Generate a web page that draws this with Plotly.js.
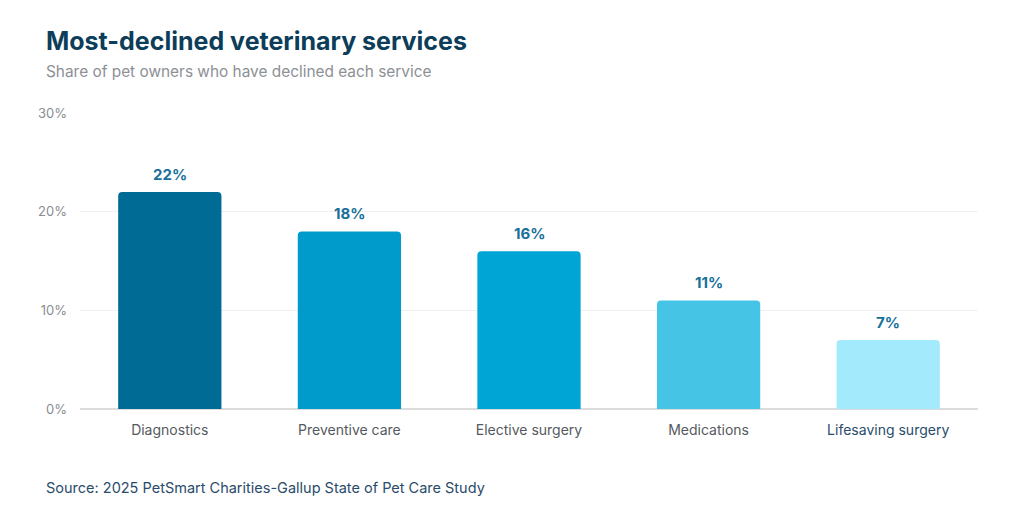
<!DOCTYPE html>
<html>
<head>
<meta charset="utf-8">
<script src="https://cdn.plot.ly/plotly-3.0.1.min.js"></script>
<style>
  html, body { margin: 0; padding: 0; background: #ffffff; }
  #chart { width: 1024px; height: 524px; }
</style>
</head>
<body>
<div id="chart"></div>
<script>
// Share of pet owners declining each veterinary service (%)
const services = ["Diagnostics", "Preventive care", "Elective surgery", "Medications", "Lifesaving surgery"];
const declinedPct = [22, 18, 16, 11, 7];
const barColors = ["#006b94", "#009bcb", "#00a5d5", "#45c4e6", "#a3ebfc"];
const yTicks = [0, 10, 20, 30];
const yTickLabels = ["0%", "10%", "20%", "30%"];

const FONT = "Inter, 'Open Sans', sans-serif";

// Plot area spans x 80..978 px, y 113..409 px
const L = 80, R = 46, T = 113, B = 115, H = 524 - T - B, W = 1024 - L - R;
const px = x => (x - L) / W;
const py = y => (524 - B - y) / H;

const trace = {
  type: "bar",
  x: services,
  y: declinedPct,
  width: 0.575,
  marker: { color: barColors, cornerradius: 4, line: { width: 0 } },
  hoverinfo: "x+y"
};

const valueLabels = services.map((s, i) => ({
  x: s, y: declinedPct[i], xref: "x", yref: "y",
  text: "<b>" + declinedPct[i] + "%</b>",
  showarrow: false, yanchor: "bottom", yshift: 6,
  font: { family: FONT, size: 15, color: "#17709a" }
}));

const layout = {
  width: 1024, height: 524,
  margin: { l: L, r: R, t: T, b: B, pad: 0 },
  paper_bgcolor: "#ffffff",
  plot_bgcolor: "#ffffff",
  showlegend: false,
  bargap: 0.425,
  font: { family: FONT },
  xaxis: {
    type: "category",
    tickvals: services,
    ticktext: services.map((s, i) => i === 4 ? '<span style="color:#2a4c6a">' + s + '</span>' : s),
    tickfont: { family: FONT, size: 14, color: "#555a60" },
    ticks: "", showgrid: false, showline: false, zeroline: false,
    ticklabelstandoff: 11,
    fixedrange: true
  },
  yaxis: {
    range: [0, 30],
    tickvals: yTicks,
    ticktext: yTickLabels,
    tickfont: { family: FONT, size: 13, color: "#8a8d91" },
    ticks: "", ticklabelstandoff: 12,
    showgrid: true, gridcolor: "#f4eef0", gridwidth: 1,
    zeroline: true, zerolinecolor: "#dcdcdc", zerolinewidth: 2,
    showline: false, fixedrange: true
  },
  annotations: [
    {
      text: "<b>Most-declined veterinary services</b>",
      xref: "paper", yref: "paper", x: px(44), y: py(41),
      xanchor: "left", yanchor: "middle", showarrow: false,
      font: { family: FONT, size: 25, color: "#0c3d59" }
    },
    {
      text: "Share of pet owners who have declined each service",
      xref: "paper", yref: "paper", x: px(44), y: py(72),
      xanchor: "left", yanchor: "middle", showarrow: false,
      font: { family: FONT, size: 15.4, color: "#8d9095" }
    },
    {
      text: "Source: 2025 PetSmart Charities-Gallup State of Pet Care Study",
      xref: "paper", yref: "paper", x: px(44), y: py(487),
      xanchor: "left", yanchor: "middle", showarrow: false,
      font: { family: FONT, size: 14.5, color: "#2a4c6a" }
    }
  ].concat(valueLabels)
};

Plotly.newPlot("chart", [trace], layout, { displayModeBar: false, staticPlot: true });
</script>
</body>
</html>
